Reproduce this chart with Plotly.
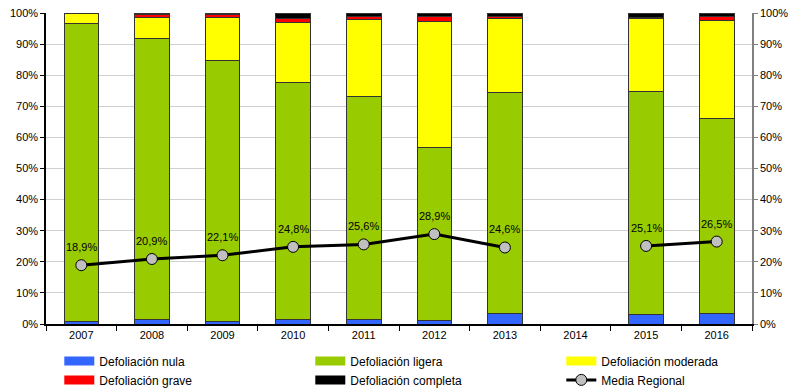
import plotly.graph_objects as go

years = ["2007", "2008", "2009", "2010", "2011", "2012", "2013", "2014", "2015", "2016"]
nula = [0.9, 1.6, 0.9, 1.6, 1.3, 1.2, 3.4, None, 3.1, 3.4]
ligera = [95.8, 90.3, 83.7, 75.9, 71.7, 55.4, 70.9, None, 71.5, 62.8]
moderada = [3.3, 6.7, 14.0, 19.4, 25.0, 40.7, 24.0, None, 23.5, 31.3]
grave = [0.0, 0.8, 0.9, 1.2, 0.9, 1.5, 0.5, None, 0.3, 1.3]
completa = [0.0, 0.6, 0.5, 1.9, 1.1, 1.2, 1.2, None, 1.6, 1.2]
media = [18.9, 20.9, 22.1, 24.8, 25.6, 28.9, 24.6, None, 25.1, 26.5]
tick_vals = [0, 10, 20, 30, 40, 50, 60, 70, 80, 90, 100]
tick_text = [f"{v}%" for v in tick_vals]

FONT = "Liberation Sans, Arial, sans-serif"
fig = go.Figure()

series = [
    ("Defoliación nula", nula, "#3366FF"),
    ("Defoliación ligera", ligera, "#99CC00"),
    ("Defoliación moderada", moderada, "#FFFF00"),
    ("Defoliación grave", grave, "#FF0000"),
    ("Defoliación completa", completa, "#000000"),
]
for name, vals, col in series:
    fig.add_trace(go.Bar(
        x=years, y=vals, name=name, width=0.49, legendgroup=name,
        showlegend=False,
        marker=dict(color=col, line=dict(color="#333333", width=1)),
    ))
    # legend swatch (wide rectangle like the original)
    fig.add_trace(go.Scatter(
        x=[years[0]], y=[None], name=name, legendgroup=name, mode="lines",
        line=dict(color=col, width=9), hoverinfo="skip",
    ))

fig.add_trace(go.Scatter(
    x=years, y=media, name="Media Regional", mode="lines+markers",
    line=dict(color="#000000", width=3),
    marker=dict(size=11, color="#C0C0C0", line=dict(color="#000000", width=1)),
    connectgaps=False,
))

for i, v in enumerate(media):
    if v is None:
        continue
    fig.add_annotation(
        x=i, y=v, xref="x", yref="y", text=f"{v:.1f}%".replace(".", ","),
        showarrow=False, yshift=18,
        font=dict(family=FONT, size=11, color="#000000"),
    )

# transparent trace to drive the right axis
fig.add_trace(go.Scatter(x=years, y=media, yaxis="y2", mode="markers",
                         marker=dict(opacity=0), showlegend=False,
                         hoverinfo="skip"))

fig.update_layout(
    width=795, height=392,
    barmode="stack",
    plot_bgcolor="#FFFFFF",
    paper_bgcolor="#FFFFFF",
    margin=dict(l=46, r=43, t=13, b=68, autoexpand=False),
    font=dict(family=FONT, size=11, color="#000000"),
    xaxis=dict(
        type="category", categoryorder="array", categoryarray=years,
        range=[-0.5, 9.5],
        showline=True, linecolor="#000000", linewidth=1.5,
        ticks="outside", tickson="boundaries", ticklen=5, tickcolor="#000000",
        showgrid=False, tickfont=dict(size=11),
    ),
    yaxis=dict(
        range=[0, 100], tickvals=tick_vals, ticktext=tick_text,
        showline=True, linecolor="#000000", linewidth=1.5,
        ticks="outside", ticklen=4, tickcolor="#000000",
        showgrid=True, gridcolor="#D0D0D0", gridwidth=1,
        zeroline=False, tickfont=dict(size=11),
    ),
    yaxis2=dict(
        range=[0, 100], tickvals=tick_vals, ticktext=tick_text,
        overlaying="y", side="right",
        showline=True, linecolor="#808080", linewidth=1.5,
        ticks="outside", ticklen=4, tickcolor="#808080",
        showgrid=False, zeroline=False, tickfont=dict(size=11),
    ),
    legend=dict(
        orientation="h", x=-0.001, xanchor="left",
        y=-0.072, yanchor="top", indentation=14,
        entrywidth=192, entrywidthmode="pixels",
        font=dict(size=12), tracegroupgap=0, traceorder="normal",
    ),
)

fig.write_html("out.html", config={"displayModeBar": False},
               post_script="document.body.style.margin='0';")
